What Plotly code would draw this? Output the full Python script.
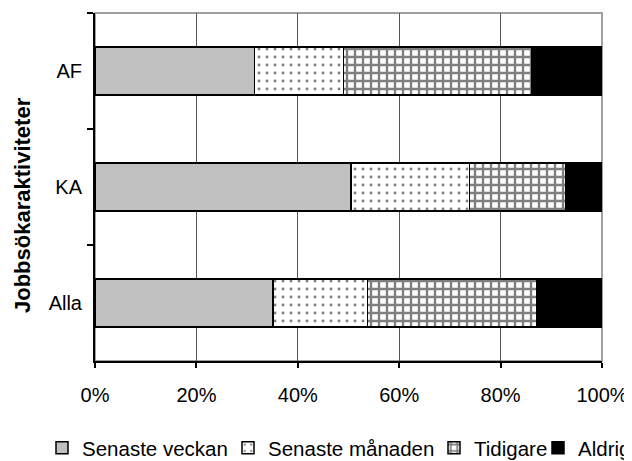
import plotly.graph_objects as go

categories = ["AF", "KA", "Alla"]
series_names = ["Senaste veckan", "Senaste månaden", "Tidigare", "Aldrig"]
senaste_veckan = [31.5, 50.5, 35.1]
senaste_manaden = [17.5, 23.4, 18.6]
tidigare = [37.2, 18.9, 33.5]
aldrig = [13.8, 7.2, 12.8]
x_tick_vals = [0, 20, 40, 60, 80, 100]
x_tick_text = ["0%", "20%", "40%", "60%", "80%", "100%"]
y_title = "Jobbsökaraktiviteter"

# page has an 8px body margin; figure coords = reference coords - 8
OFF = 8
W, H = 632 - OFF, 461 - OFF
FONT = "Liberation Sans, Arial, sans-serif"

values = [senaste_veckan, senaste_manaden, tidigare, aldrig]
markers = [
    dict(color="#c0c0c0", line=dict(color="black", width=1.5)),
    dict(color="white", line=dict(color="black", width=1.5),
         pattern=dict(shape=".", fgcolor="black", bgcolor="white", size=8, solidity=0.1, fillmode="overlay")),
    dict(color="white", line=dict(color="black", width=1.5),
         pattern=dict(shape="+", fgcolor="black", bgcolor="white", size=8, solidity=0.5, fillmode="overlay")),
    dict(color="black", line=dict(color="black", width=1.5)),
]
legend_ids = ["legend", "legend2", "legend3", "legend4"]
legend_text_px = [82, 268, 474, 578]  # reference positions of the legend texts

fig = go.Figure()
for name, vals, mk, lid in zip(series_names, values, markers, legend_ids):
    fig.add_trace(go.Bar(y=categories, x=vals, name=name, orientation="h",
                         marker=mk, legend=lid))

legend_common = dict(orientation="h", xref="container", yref="container",
                     xanchor="left", yanchor="middle", y=(H - (448 - OFF)) / H,
                     font=dict(family=FONT, size=20.5, color="black"),
                     bgcolor="rgba(0,0,0,0)", borderwidth=0, itemwidth=30)
layout_legends = {}
for lid, tx in zip(legend_ids, legend_text_px):
    layout_legends[lid] = dict(legend_common, x=(tx - OFF - 40) / W)

plot_l, plot_r, plot_t, plot_b = 95 - OFF, 602 - OFF, 13 - OFF, 361 - OFF
pw, ph = plot_r - plot_l, plot_b - plot_t

fig.update_layout(
    width=W, height=H,
    barmode="stack", bargap=0.586,
    plot_bgcolor="white", paper_bgcolor="white",
    margin=dict(l=plot_l, r=W - plot_r, t=plot_t, b=H - plot_b, pad=0, autoexpand=False),
    font=dict(family=FONT, size=20, color="black"),
    showlegend=True,
    xaxis=dict(range=[0, 100], tickvals=x_tick_vals, ticktext=x_tick_text,
               showgrid=True, gridcolor="#555555", gridwidth=1,
               showline=True, linecolor="black", linewidth=1.5,
               ticks="outside", ticklen=5, tickcolor="black", tickwidth=1.5,
               ticklabelstandoff=10,
               zeroline=False, tickfont=dict(size=20)),
    yaxis=dict(autorange="reversed", showgrid=False,
               showline=True, linecolor="black", linewidth=2,
               ticks="outside", ticklen=6, tickcolor="black", tickwidth=1.5,
               ticklabelstandoff=7,
               tickson="boundaries", tickfont=dict(size=20)),
    shapes=[dict(type="rect", xref="paper", yref="paper", x0=0, x1=1, y0=0, y1=1,
                 line=dict(color="#a0a0a0", width=2), layer="below")],
    annotations=[dict(text=f"<b>{y_title}</b>", textangle=-90, xref="paper", yref="paper",
                      xanchor="center", yanchor="middle",
                      x=(22 - OFF - plot_l) / pw, y=(plot_b - (205 - OFF)) / ph, showarrow=False,
                      font=dict(family=FONT, size=22, color="black"))],
    **layout_legends,
)

fig.write_html("out.html")
